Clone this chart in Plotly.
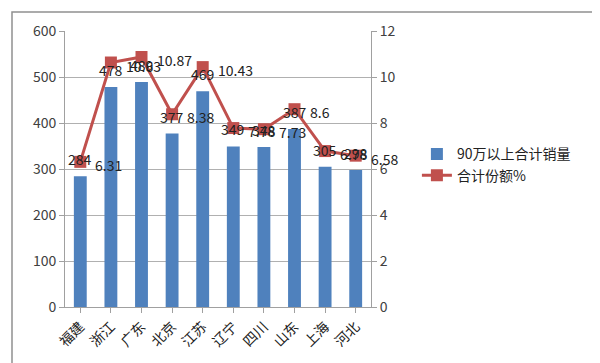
import plotly.graph_objects as go

categories = ["福建", "浙江", "广东", "北京", "江苏", "辽宁", "四川", "山东", "上海", "河北"]
sales = [284, 478, 489, 377, 469, 349, 348, 387, 305, 298]
share = [6.31, 10.63, 10.87, 8.38, 10.43, 7.78, 7.73, 8.6, 6.78, 6.58]

bar_name = "90万以上合计销量"
line_name = "合计份额%"

font_main = "Noto Sans CJK SC, Open Sans, sans-serif"

fig = go.Figure()
fig.add_trace(go.Bar(
    x=categories, y=sales, name=bar_name,
    marker=dict(color="#4F81BD", line=dict(width=0)),
    width=0.42,
))
fig.add_trace(go.Scatter(
    x=categories, y=share, name=line_name, yaxis="y2",
    mode="lines+markers",
    line=dict(color="#C0504D", width=3),
    marker=dict(symbol="square", size=12, color="#C0504D"),
))

annotations = []
for c, v in zip(categories, sales):
    annotations.append(dict(x=c, y=v, xref="x", yref="y", text=str(v),
                            showarrow=False, yanchor="bottom", yshift=5,
                            font=dict(size=14, color="#222")))
for c, v in zip(categories, share):
    annotations.append(dict(x=c, y=v, xref="x", yref="y2", text=f"{v:g}",
                            showarrow=False, xanchor="left", xshift=13,
                            yshift=-3, font=dict(size=14, color="#222")))

fig.update_layout(
    width=600, height=363,
    margin=dict(l=57, r=237, t=23, b=64),
    paper_bgcolor="white", plot_bgcolor="white",
    font=dict(family=font_main, size=14, color="#404040"),
    showlegend=True,
    legend=dict(x=1.15, y=0.515, xanchor="left", yanchor="middle",
                font=dict(size=14, color="#222"), tracegroupgap=8,
                bgcolor="rgba(0,0,0,0)"),
    xaxis=dict(
        tickangle=-45, showgrid=False, showline=True, linecolor="#A0A0A0",
        ticks="outside", ticklen=5, tickcolor="#A0A0A0",
        tickfont=dict(size=14, color="#222"),
        range=[-0.5, 9.5],
    ),
    yaxis=dict(
        range=[0, 600], dtick=100, showgrid=True, gridcolor="#B0B0B0",
        showline=True, linecolor="#A0A0A0", ticks="outside", ticklen=5,
        tickcolor="#A0A0A0", tickfont=dict(size=14, color="#404040"),
        zeroline=False,
    ),
    yaxis2=dict(
        range=[0, 12], dtick=2, overlaying="y", side="right", showgrid=False,
        showline=True, linecolor="#A0A0A0", ticks="outside", ticklen=5,
        tickcolor="#A0A0A0", tickfont=dict(size=14, color="#404040"),
        zeroline=False,
    ),
    annotations=annotations,
    shapes=[dict(type="rect", xref="paper", yref="paper",
                 x0=(4-57)/306, x1=(595-57)/306,
                 y0=(299-359)/276, y1=(299-4)/276,
                 line=dict(color="#909090", width=1.5))],
)

fig.write_html("out.html")
